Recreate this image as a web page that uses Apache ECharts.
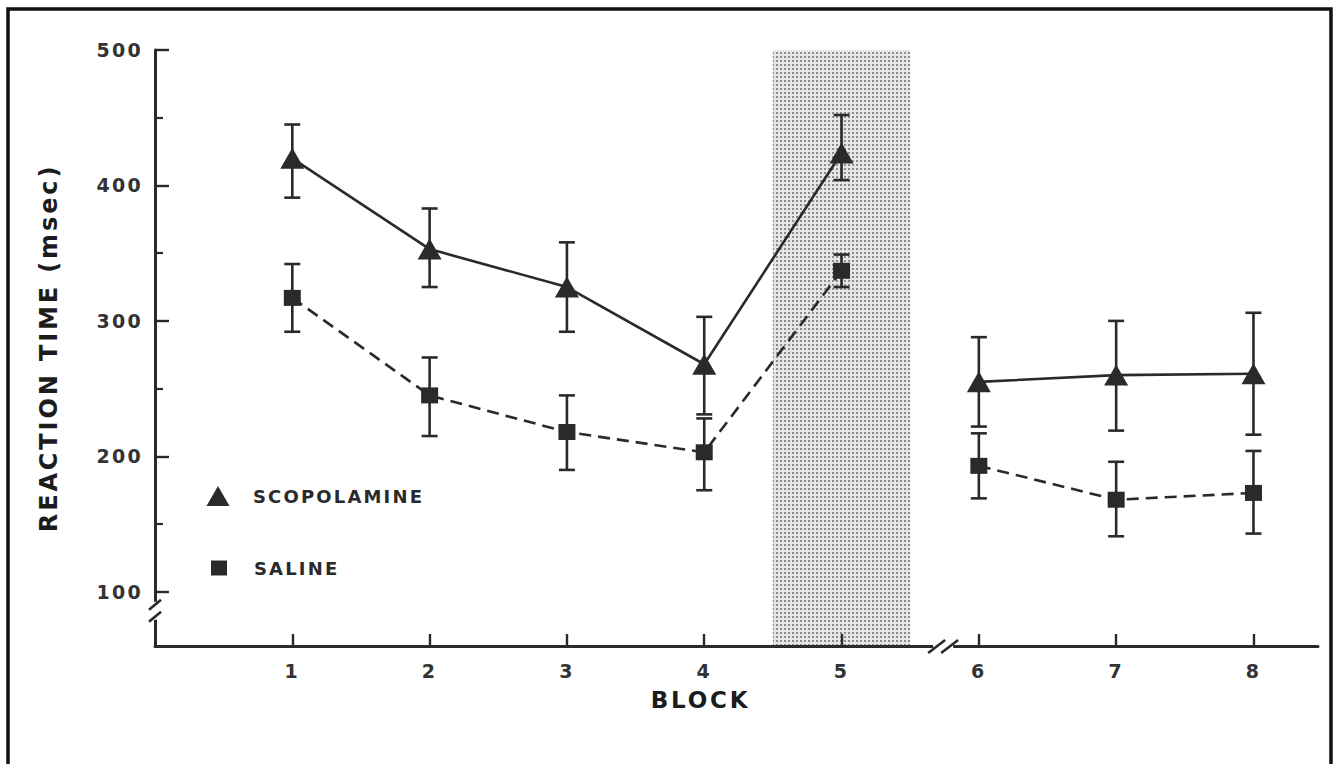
<!DOCTYPE html>
<html>
<head>
<meta charset="utf-8">
<script src="https://cdn.jsdelivr.net/npm/echarts@6/dist/echarts.min.js"></script>
<style>
  html, body { margin: 0; padding: 0; background: #fff; }
  #chart { width: 1337px; height: 764px; }
  #chart text { letter-spacing: 0.12em; }
</style>
</head>
<body>
<div id="chart"></div>
<script>
// ---- data ----
const blocks = [1, 2, 3, 4, 5, 6, 7, 8];
const scopolamineMean = [420, 353, 325, 268, 424, 255, 260, 261];
const scopolamineHigh = [445, 383, 358, 303, 452, 288, 300, 306];
const scopolamineLow  = [391, 325, 292, 231, 404, 222, 219, 216];
const salineMean = [317, 245, 218, 203, 337, 193, 168, 173];
const salineHigh = [342, 273, 245, 228, 349, 217, 196, 204];
const salineLow  = [292, 215, 190, 175, 325, 169, 141, 143];
const yTickValues = [100, 200, 300, 400, 500];
const yMinorTickValues = [150, 250, 350, 450];
const shadedBlocks = [4.5, 5.5];
const lastJoinedBlock = 5;   // lines are not drawn between block 5 and block 6

const INK = '#2a2a2a';
const FONT = 'DejaVu Sans';

function pts(mean, part) {
  return blocks.map((b, i) => [b, mean[i]])
    .filter(p => part === 0 ? p[0] <= lastJoinedBlock : p[0] > lastJoinedBlock);
}
function errData(low, high) {
  return blocks.map((b, i) => [b, low[i], high[i]]);
}

const pattern = document.createElement('canvas');
pattern.width = 4; pattern.height = 4;
(function () {
  const c = pattern.getContext('2d');
  c.fillStyle = '#e6e6e6'; c.fillRect(0, 0, 4, 4);
  c.fillStyle = '#8c8c8c'; c.fillRect(0, 0, 2, 2);
})();

function errorBar(params, api) {
  const x = api.value(0);
  const lo = api.coord([x, api.value(1)]);
  const hi = api.coord([x, api.value(2)]);
  const hw = 8;
  const st = { stroke: INK, lineWidth: 2.6 };
  return {
    type: 'group',
    children: [
      { type: 'line', shape: { x1: hi[0], y1: hi[1], x2: lo[0], y2: lo[1] }, style: st },
      { type: 'line', shape: { x1: hi[0] - hw, y1: hi[1], x2: hi[0] + hw, y2: hi[1] }, style: st },
      { type: 'line', shape: { x1: lo[0] - hw, y1: lo[1], x2: lo[0] + hw, y2: lo[1] }, style: st }
    ]
  };
}

const chart = echarts.init(document.getElementById('chart'), null, { renderer: 'svg' });

const lineCommon = (name, part, mean, symbol, size, dashed) => ({
  type: 'line', name: name, data: pts(mean, part),
  symbol: symbol, symbolSize: size, z: 4,
  itemStyle: { color: INK },
  lineStyle: { color: INK, width: 2.6, type: dashed ? [12, 7] : 'solid' },
  emphasis: { disabled: true }
});

const option = {
  animation: false,
  backgroundColor: '#fff',
  grid: { left: 155, right: 19, top: 50, bottom: 118, containLabel: false },
  xAxis: {
    type: 'value', min: 0, max: 8.47, z: 6,
    name: 'BLOCK', nameLocation: 'middle', nameGap: 42,
    nameTextStyle: { fontFamily: FONT, fontWeight: 'bold', fontSize: 23, color: '#1c1c1c', padding: [0, 72, 0, 0] },
    axisLine: { show: true, lineStyle: { color: INK, width: 3 } },
    axisTick: { show: true, inside: true, length: 12, customValues: blocks, lineStyle: { color: INK, width: 2.4 } },
    axisLabel: { show: true, customValues: blocks, margin: 15, fontFamily: FONT, fontWeight: 'bold', fontSize: 19, color: '#333' },
    splitLine: { show: false }
  },
  yAxis: [{
    type: 'value', min: 60, max: 500, z: 6,
    name: 'REACTION TIME (msec)', nameLocation: 'middle', nameGap: 94, nameRotate: 90,
    nameTextStyle: { fontFamily: FONT, fontWeight: 'bold', fontSize: 24, color: '#1c1c1c' },
    axisLine: { show: true, lineStyle: { color: INK, width: 3 } },
    axisTick: { show: true, inside: true, length: 14, customValues: yTickValues, lineStyle: { color: INK, width: 2.4 } },
    axisLabel: { show: true, customValues: yTickValues, margin: 12, fontFamily: FONT, fontWeight: 'bold', fontSize: 19, color: '#333' },
    splitLine: { show: false }
  }, {
    type: 'value', min: 60, max: 500, z: 6, position: 'left',
    axisLine: { show: false },
    axisTick: { show: true, inside: true, length: 8, customValues: yMinorTickValues, lineStyle: { color: INK, width: 2.2 } },
    axisLabel: { show: false },
    splitLine: { show: false }
  }],
  legend: [{
    data: [{ name: 'SCOPOLAMINE', icon: 'path://M0,20L11.5,0L23,20Z' }],
    left: 206.5, top: 486, padding: 0, itemWidth: 60, itemHeight: 20, selectedMode: false,
    itemStyle: { color: INK },
    textStyle: { fontFamily: FONT, fontWeight: 'bold', fontSize: 18, color: '#2a2a2a' }
  }, {
    data: [{ name: 'SALINE', icon: 'path://M0,0H16V15H0Z' }],
    left: 211, top: 559, padding: 0, itemWidth: 60, itemHeight: 15, selectedMode: false,
    itemStyle: { color: INK },
    textStyle: { fontFamily: FONT, fontWeight: 'bold', fontSize: 18, color: '#2a2a2a' }
  }],
  series: [
    {
      type: 'line', name: 'shade', data: [], z: 1, silent: true,
      markArea: {
        silent: true,
        itemStyle: { color: { image: pattern, repeat: 'repeat' } },
        data: [[{ xAxis: shadedBlocks[0], yAxis: 60 }, { xAxis: shadedBlocks[1], yAxis: 500 }]]
      }
    },
    { type: 'custom', name: 'scop-err', renderItem: errorBar, data: errData(scopolamineLow, scopolamineHigh), encode: { x: 0, y: [1, 2] }, z: 3, silent: true },
    { type: 'custom', name: 'sal-err', renderItem: errorBar, data: errData(salineLow, salineHigh), encode: { x: 0, y: [1, 2] }, z: 3, silent: true },
    lineCommon('SCOPOLAMINE', 0, scopolamineMean, 'triangle', [24, 21], false),
    lineCommon('SCOPOLAMINE', 1, scopolamineMean, 'triangle', [24, 21], false),
    lineCommon('SALINE', 0, salineMean, 'rect', [17, 16], true),
    lineCommon('SALINE', 1, salineMean, 'rect', [17, 16], true)
  ]
};
chart.setOption(option);

// decorations: axis breaks and outer frame
const ax = chart.convertToPixel({ xAxisIndex: 0 }, 0);
const ay = chart.convertToPixel({ yAxisIndex: 0 }, 60);
const yb = chart.convertToPixel({ yAxisIndex: 0 }, 86);
const xb = chart.convertToPixel({ xAxisIndex: 0 }, 5.74);
const slash = { stroke: INK, lineWidth: 2.6 };
chart.setOption({
  graphic: [
    { type: 'rect', z: 100, shape: { x: ax - 5, y: yb - 9, width: 10, height: 18 }, style: { fill: '#fff' } },
    { type: 'line', z: 101, shape: { x1: ax - 6, y1: yb - 1, x2: ax + 6, y2: yb - 11 }, style: slash },
    { type: 'line', z: 101, shape: { x1: ax - 6, y1: yb + 11, x2: ax + 6, y2: yb + 1 }, style: slash },
    { type: 'rect', z: 100, shape: { x: xb - 10, y: ay - 4, width: 20, height: 8 }, style: { fill: '#fff' } },
    { type: 'line', z: 101, shape: { x1: xb - 15, y1: ay + 7, x2: xb + 2, y2: ay - 6 }, style: slash },
    { type: 'line', z: 101, shape: { x1: xb - 2, y1: ay + 7, x2: xb + 15, y2: ay - 6 }, style: slash },
    { type: 'rect', z: 102, shape: { x: 8, y: 9, width: 1323, height: 790 }, style: { fill: 'none', stroke: '#111', lineWidth: 3.5 } }
  ]
});
</script>
</body>
</html>
